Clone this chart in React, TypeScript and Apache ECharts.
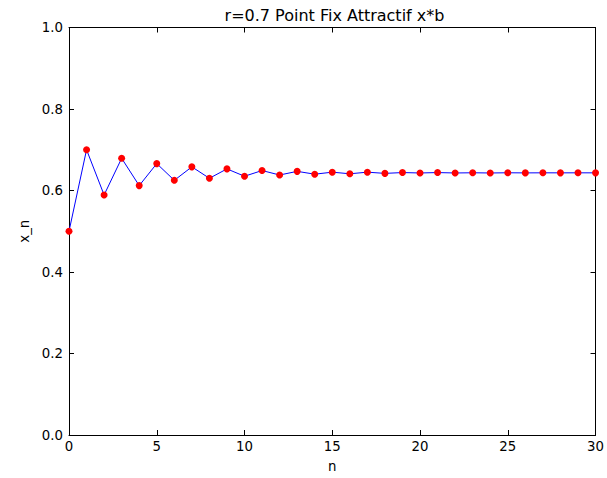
import React, { useEffect, useRef } from "react";
import * as echarts from "echarts";

const nValues = [0, 1, 2, 3, 4, 5, 6, 7, 8, 9, 10, 11, 12, 13, 14, 15, 16, 17, 18, 19, 20, 21, 22, 23, 24, 25, 26, 27, 28, 29, 30];
const xValues = [
  0.5, 0.7, 0.589, 0.679, 0.612, 0.666, 0.625, 0.658, 0.63, 0.653, 0.635,
  0.649, 0.638, 0.647, 0.64, 0.645, 0.641, 0.645, 0.642, 0.644, 0.643,
  0.644, 0.643, 0.6435, 0.643, 0.6435, 0.6432, 0.6434, 0.6433, 0.6434, 0.6433,
];
const titleText = "r=0.7 Point Fix Attractif x*b";
const xAxisName = "n";
const yAxisName = "x_n";

const FONT = "DejaVu Sans";
const TICK_FS = 13.3;

export default function App() {
  const ref = useRef<HTMLDivElement>(null);
  useEffect(() => {
    if (!ref.current) return;
    const chart = echarts.init(ref.current, null, { renderer: "svg" });
    const data = nValues.map((n, i) => [n, xValues[i]]);
    const hiddenLabels = { show: false };
    const tick = { show: true, inside: true, length: 5, lineStyle: { color: "#000" } };
    const line = { show: true, onZero: false, lineStyle: { color: "#000", width: 1 } };
    chart.setOption({
      animation: false,
      backgroundColor: "#fff",
      textStyle: { fontFamily: FONT },
      grid: { left: 69, right: 7, top: 27.5, bottom: 38, containLabel: false },
      graphic: [
        {
          type: "text",
          x: 334.5,
          y: 15.5,
          style: {
            text: titleText,
            fontFamily: FONT,
            fontSize: 16,
            fill: "#000",
            textAlign: "center",
            textVerticalAlign: "middle",
          },
        },
      ],
      xAxis: [
        {
          type: "value",
          min: 0,
          max: 30,
          interval: 5,
          position: "bottom",
          name: xAxisName,
          nameLocation: "middle",
          nameGap: 25,
          nameTextStyle: { fontFamily: FONT, fontSize: TICK_FS, color: "#000" },
          axisLine: line,
          axisTick: tick,
          axisLabel: { fontFamily: FONT, fontSize: TICK_FS, color: "#000", margin: 5 },
          splitLine: { show: false },
        },
        {
          type: "value",
          min: 0,
          max: 30,
          interval: 5,
          position: "top",
          axisLine: line,
          axisTick: tick,
          axisLabel: hiddenLabels,
          splitLine: { show: false },
        },
      ],
      yAxis: [
        {
          type: "value",
          min: 0,
          max: 1,
          interval: 0.2,
          position: "left",
          name: yAxisName,
          nameLocation: "middle",
          nameGap: 35,
          nameTextStyle: { fontFamily: FONT, fontSize: TICK_FS, color: "#000" },
          axisLine: line,
          axisTick: tick,
          axisLabel: {
            fontFamily: FONT,
            fontSize: TICK_FS,
            color: "#000",
            margin: 6,
            formatter: (v: number) => v.toFixed(1),
          },
          splitLine: { show: false },
        },
        {
          type: "value",
          min: 0,
          max: 1,
          interval: 0.2,
          position: "right",
          axisLine: line,
          axisTick: tick,
          axisLabel: hiddenLabels,
          splitLine: { show: false },
        },
      ],
      series: [
        {
          type: "line",
          data,
          xAxisIndex: 0,
          yAxisIndex: 0,
          symbol: "circle",
          symbolSize: 7,
          showSymbol: true,
          itemStyle: { color: "#ff0000", borderWidth: 0 },
          lineStyle: { color: "#0000ff", width: 1 },
          clip: true,
        },
      ],
    });
    return () => chart.dispose();
  }, []);
  return (
    <div
      ref={ref}
      style={{ position: "fixed", left: 0, top: 0, width: 607, height: 478 }}
    />
  );
}
